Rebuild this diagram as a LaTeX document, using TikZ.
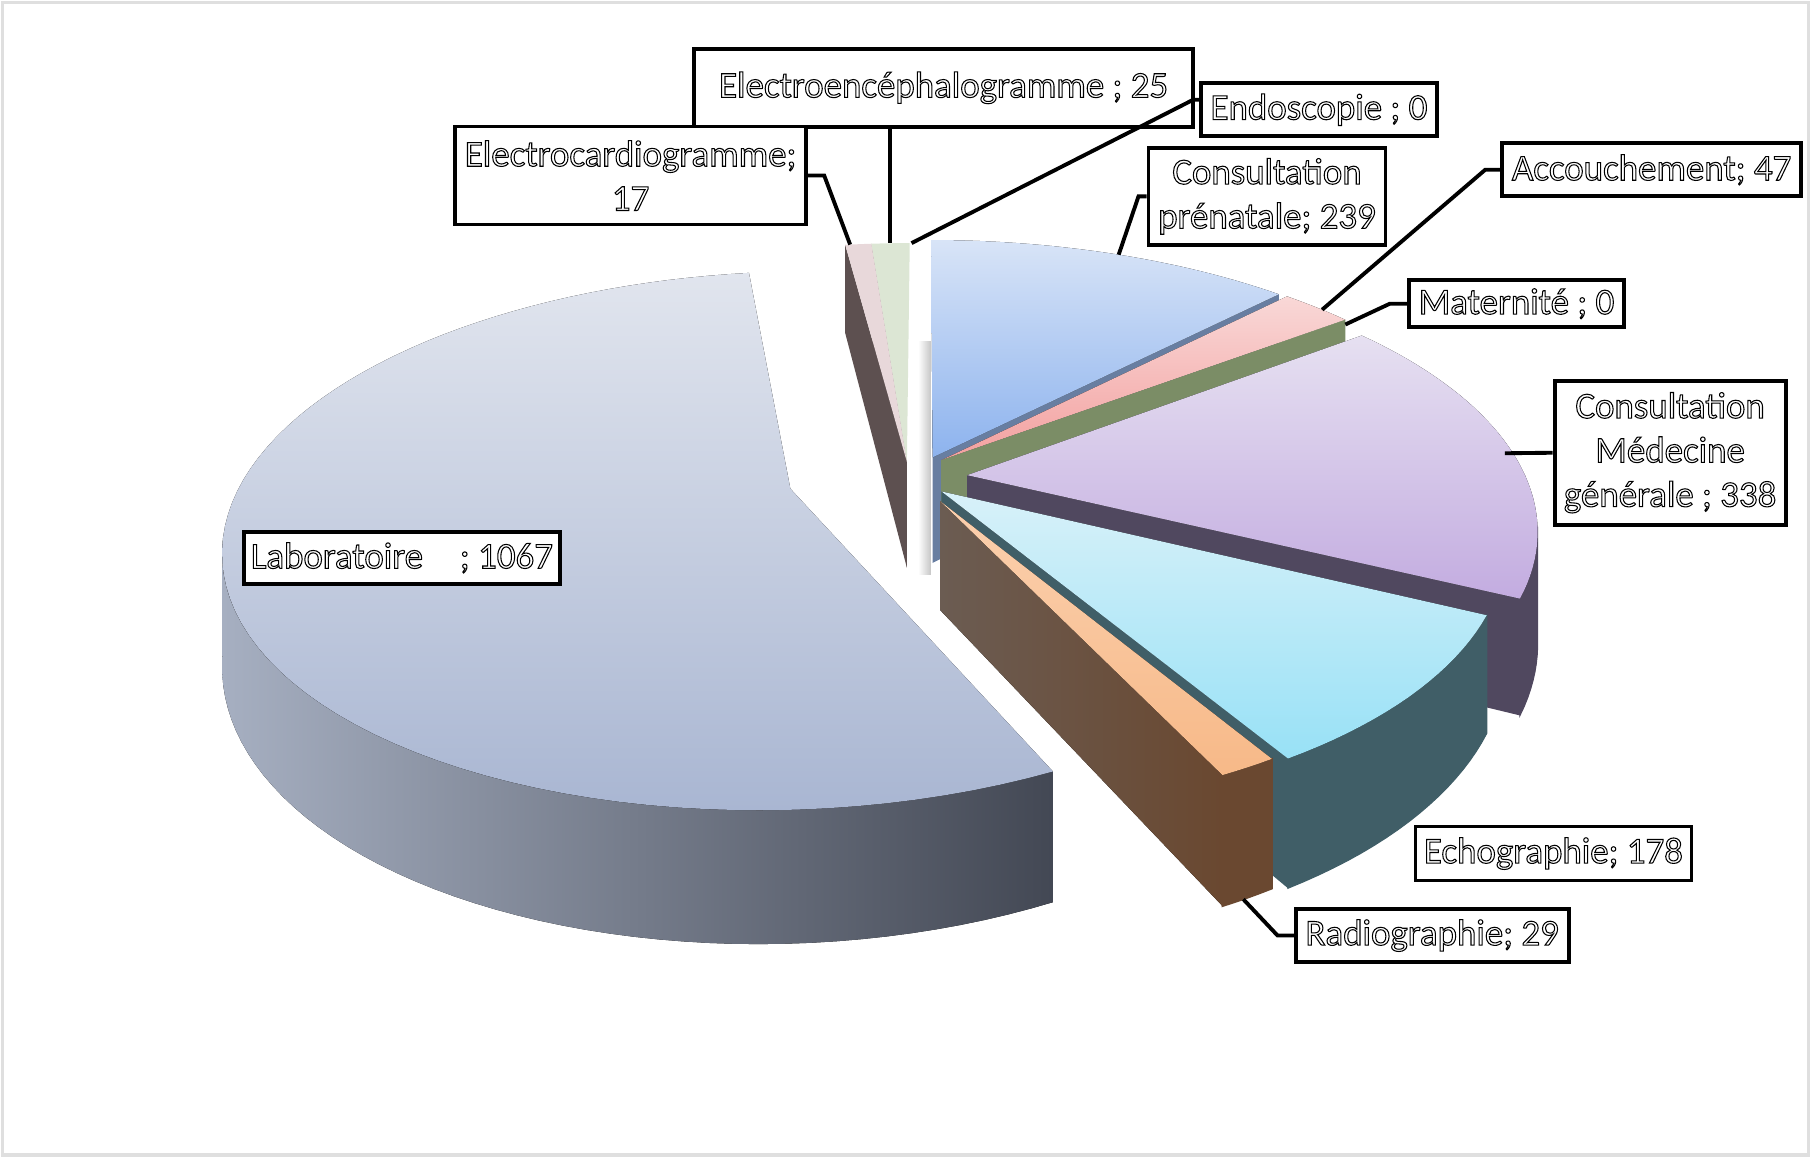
\documentclass[tikz,border=0pt]{standalone}
\usepackage{fontspec}
\setmainfont{Carlito}
\usetikzlibrary{positioning}
\definecolor{labA}{HTML}{E1E5EE}
\definecolor{labB}{HTML}{A9B6D2}
\definecolor{labSideA}{HTML}{A6AFC1}
\definecolor{labSideB}{HTML}{434854}
\definecolor{ecgTop}{HTML}{E8D8DA}
\definecolor{eegTop}{HTML}{DCE6D4}
\definecolor{sliverSide}{HTML}{5D5050}
\definecolor{preA}{HTML}{D8E4F7}
\definecolor{preB}{HTML}{8DB3EE}
\definecolor{preSide}{HTML}{687EA1}
\definecolor{accA}{HTML}{F9D8D7}
\definecolor{accB}{HTML}{F3A09F}
\definecolor{matSide}{HTML}{7B8D66}
\definecolor{medA}{HTML}{E6E0F1}
\definecolor{medB}{HTML}{C3ACE0}
\definecolor{medSide}{HTML}{50485F}
\definecolor{echA}{HTML}{D8F1F9}
\definecolor{echB}{HTML}{98E1F6}
\definecolor{echSide}{HTML}{405E67}
\definecolor{radA}{HTML}{FBD0AE}
\definecolor{radB}{HTML}{F7B988}
\definecolor{radSideA}{HTML}{6B5C52}
\definecolor{radSideB}{HTML}{6A4830}

\begin{document}
\begin{tikzpicture}[x=0.01155cm, y=-0.01155cm,
  declare function={
    sc(\zz)=1/(1-0.2*\zz);
    pz(\ang,\rad)=-\rad*\rsc*cos(\ang)+(\offz);
    ppx(\ang,\rad,\hgt)=800+495*(\rad*\rsc*sin(\ang)+(\offx))*sc(pz(\ang,\rad));
    ppy(\ang,\rad,\hgt)=404.5+(229*pz(\ang,\rad)+92*\hgt)*sc(pz(\ang,\rad));
  },
  lbl/.style={draw, line width=1.1pt, fill=white, align=center, inner sep=2pt,
              font={\fontsize{10.5}{12.6}\selectfont\special{pdf:literal direct 1 Tr 0.3 w}}},
  lead/.style={line width=1.1pt}
]
\useasboundingbox (0,0) rectangle (1568,1002);
\draw[gray!25, line width=1pt] (2,2) rectangle (1566,1000);

% Laboratoire
\def\rsc{0.95}\def\offx{-0.23}\def\offz{0.08}
\fill[left color=labSideA, right color=labSideB]
  ({ppx(154.206,1,0)},{ppy(154.206,1,0)})
  -- plot[domain=154.206:259, samples=50, variable=\t] ({ppx(\t,1,0)},{ppy(\t,1,0)})
  -- plot[domain=259:154.206, samples=50, variable=\t] ({ppx(\t,1,1)},{ppy(\t,1,1)}) -- cycle;
\fill[top color=labA, bottom color=labB]
  ({ppx(0,0,0)},{ppy(0,0,0)})
  -- plot[domain=154.206:352.206, samples=80, variable=\t] ({ppx(\t,1,0)},{ppy(\t,1,0)}) -- cycle;

% shadow strip
\fill[left color=white, right color=gray!45] (795,296) rectangle (806,497);

% Electroencephalogramme
\def\rsc{1}\def\offx{-0.03}\def\offz{-0.02}
\fill[sliverSide] ({ppx(355.361,0,0)},{ppy(355.361,0,0)}) -- ({ppx(355.361,1,0)},{ppy(355.361,1,0)})
  -- ({ppx(355.361,1,1)},{ppy(355.361,1,1)}) -- ({ppx(355.361,0,1)},{ppy(355.361,0,1)}) -- cycle;
\fill[eegTop] ({ppx(0,0,0)},{ppy(0,0,0)})
  -- plot[domain=355.361:360, samples=5, variable=\t] ({ppx(\t,1,0)},{ppy(\t,1,0)}) -- cycle;
\coordinate (eegtip) at ({ppx(357.6,1,0)},{ppy(357.6,1,0)});
\coordinate (endotip) at ({ppx(359.8,1,0)+3},{ppy(359.8,1,0)});

% Electrocardiogramme
\fill[sliverSide] ({ppx(352.206,0,0)},{ppy(352.206,0,0)}) -- ({ppx(352.206,1,0)},{ppy(352.206,1,0)})
  -- ({ppx(352.206,1,1)},{ppy(352.206,1,1)}) -- ({ppx(352.206,0,1)},{ppy(352.206,0,1)}) -- cycle;
\fill[ecgTop] ({ppx(0,0,0)},{ppy(0,0,0)})
  -- plot[domain=352.206:355.361, samples=5, variable=\t] ({ppx(\t,1,0)},{ppy(\t,1,0)}) -- cycle;
\coordinate (ecgtip) at ({ppx(352.8,1,0)},{ppy(352.8,1,0)});

% Consultation prenatale
\def\offx{0.0151}\def\offz{-0.0370}
\fill[preSide] ({ppx(44.351,0,0)},{ppy(44.351,0,0)}) -- ({ppx(44.351,1,0)},{ppy(44.351,1,0)})
  -- ({ppx(44.351,1,1)},{ppy(44.351,1,1)}) -- ({ppx(44.351,0,1)},{ppy(44.351,0,1)}) -- cycle;
\fill[top color=preA, bottom color=preB] ({ppx(0,0,0)},{ppy(0,0,0)})
  -- plot[domain=0:44.351, samples=30, variable=\t] ({ppx(\t,1,0)},{ppy(\t,1,0)}) -- cycle;
\coordinate (pretip) at ({ppx(23,1,0)},{ppy(23,1,0)});

% Accouchement
\def\offx{0.0301}\def\offz{-0.0264}
\fill[top color=accA, bottom color=accB] ({ppx(0,0,0)},{ppy(0,0,0)})
  -- plot[domain=44.351:53.072, samples=8, variable=\t] ({ppx(\t,1,0)},{ppy(\t,1,0)}) -- cycle;
\coordinate (acctip) at ({ppx(49.5,1,0)},{ppy(49.5,1,0)});

% Maternite
\fill[matSide] ({ppx(53.072,0,0)},{ppy(53.072,0,0)}) -- ({ppx(53.072,1,0)},{ppy(53.072,1,0)})
  -- ({ppx(53.072,1,1)},{ppy(53.072,1,1)}) -- ({ppx(53.072,0,1)},{ppy(53.072,0,1)}) -- cycle;
\coordinate (mattip) at ({ppx(53.072,1,0.05)},{ppy(53.072,1,0.05)});

% Consultation Medecine generale
\def\rsc{0.97}\def\offx{0.075}\def\offz{0.03}
\fill[medSide] ({ppx(115.794,0,0)},{ppy(115.794,0,0)}) -- ({ppx(115.794,1,0)},{ppy(115.794,1,0)})
  -- ({ppx(115.794,1,1)},{ppy(115.794,1,1)}) -- ({ppx(115.794,0,1)},{ppy(115.794,0,1)}) -- cycle;
\filldraw[medSide, line width=0.3pt] ({ppx(101,1,0)},{ppy(101,1,0)})
  -- plot[domain=101:115.794, samples=10, variable=\t] ({ppx(\t,1,0)},{ppy(\t,1,0)})
  -- plot[domain=115.794:101, samples=10, variable=\t] ({ppx(\t,1,1)},{ppy(\t,1,1)}) -- cycle;
\fill[top color=medA, bottom color=medB] ({ppx(0,0,0)},{ppy(0,0,0)})
  -- plot[domain=53.072:115.794, samples=40, variable=\t] ({ppx(\t,1,0)},{ppy(\t,1,0)}) -- cycle;
\coordinate (medtip) at ({ppx(85,0.985,0)},{ppy(85,0.985,0)});

% Echographie
\def\rsc{0.95}\def\offx{0.03}\def\offz{0.09}
\fill[echSide] ({ppx(148.825,0,0)},{ppy(148.825,0,0)}) -- ({ppx(148.825,1,0)},{ppy(148.825,1,0)})
  -- ({ppx(148.825,1,1)},{ppy(148.825,1,1)}) -- ({ppx(148.825,0,1)},{ppy(148.825,0,1)}) -- cycle;
\filldraw[echSide, line width=0.3pt] ({ppx(115.794,1,0)},{ppy(115.794,1,0)})
  -- plot[domain=115.794:148.825, samples=20, variable=\t] ({ppx(\t,1,0)},{ppy(\t,1,0)})
  -- plot[domain=148.825:115.794, samples=20, variable=\t] ({ppx(\t,1,1)},{ppy(\t,1,1)}) -- cycle;
\fill[top color=echA, bottom color=echB] ({ppx(0,0,0)},{ppy(0,0,0)})
  -- plot[domain=115.794:148.825, samples=20, variable=\t] ({ppx(\t,1,0)},{ppy(\t,1,0)}) -- cycle;

% Radiographie
\def\rsc{0.91}\def\offx{0.0276}\def\offz{0.125}
\fill[left color=radSideA, right color=radSideB] ({ppx(154.206,0,0)},{ppy(154.206,0,0)}) -- ({ppx(154.206,1,0)},{ppy(154.206,1,0)})
  -- ({ppx(154.206,1,1)},{ppy(154.206,1,1)}) -- ({ppx(154.206,0,1)},{ppy(154.206,0,1)}) -- cycle;
\filldraw[radSideB, line width=0.5pt] ({ppx(148.825,1,0)},{ppy(148.825,1,0)})
  -- plot[domain=148.825:154.206, samples=5, variable=\t] ({ppx(\t,1,0)},{ppy(\t,1,0)})
  -- plot[domain=154.206:148.825, samples=5, variable=\t] ({ppx(\t,1,1)},{ppy(\t,1,1)}) -- cycle;
\fill[top color=radA, bottom color=radB] ({ppx(0,0,0)},{ppy(0,0,0)})
  -- plot[domain=148.825:154.206, samples=5, variable=\t] ({ppx(\t,1,0)},{ppy(\t,1,0)}) -- cycle;
\coordinate (radtip) at ({ppx(152,1,1)},{ppy(152,1,1)});

% Labels
\node[lbl, minimum width=4.99cm, minimum height=0.78cm] (eeg) at (817,76) {Electroencéphalogramme ; 25};
\node[lbl, minimum width=2.36cm, minimum height=0.53cm] (endo) at (1142,95) {Endoscopie ; 0};
\node[lbl, minimum width=3.51cm, minimum height=0.98cm] (ecg) at (546,152) {Electrocardiogramme;\\17};
\node[lbl, minimum width=2.37cm, minimum height=0.97cm] (pre) at (1097,170) {Consultation\\prénatale; 239};
\node[lbl, minimum width=2.99cm, minimum height=0.53cm] (acc) at (1430,147) {Accouchement; 47};
\node[lbl, minimum width=2.15cm, minimum height=0.47cm] (mat) at (1313,263) {Maternité ; 0};
\node[lbl, minimum width=2.31cm, minimum height=1.44cm] (med) at (1446,392) {Consultation\\Médecine\\générale ; 338};
\node[lbl, minimum width=3.10cm, minimum height=0.52cm] (lab) at (348,483) {Laboratoire\quad; 1067};
\node[lbl, minimum width=2.76cm, minimum height=0.54cm] (ech) at (1345,739) {Echographie; 178};
\node[lbl, minimum width=2.73cm, minimum height=0.53cm] (rad) at (1240,810) {Radiographie; 29};

% Leader lines
\draw[lead] (ecg.east) -- ++(14,0) -- (ecgtip);
\draw[lead] (eeg.south -| eegtip) -- (eegtip);
\draw[lead] ([yshift=0.1cm]endo.west) -- ++(-5,0) -- (endotip);
\draw[lead] (pre.west) -- ++(-7,0) -- (pretip);
\draw[lead] (acc.west) -- ++(-13,0) -- (acctip);
\draw[lead] (mat.west) -- ++(-15,0) -- (mattip);
\draw[lead] (med.west) -- (medtip);
\draw[lead] (rad.west) -- ++(-14,0) -- (radtip);
\end{tikzpicture}
\end{document}
